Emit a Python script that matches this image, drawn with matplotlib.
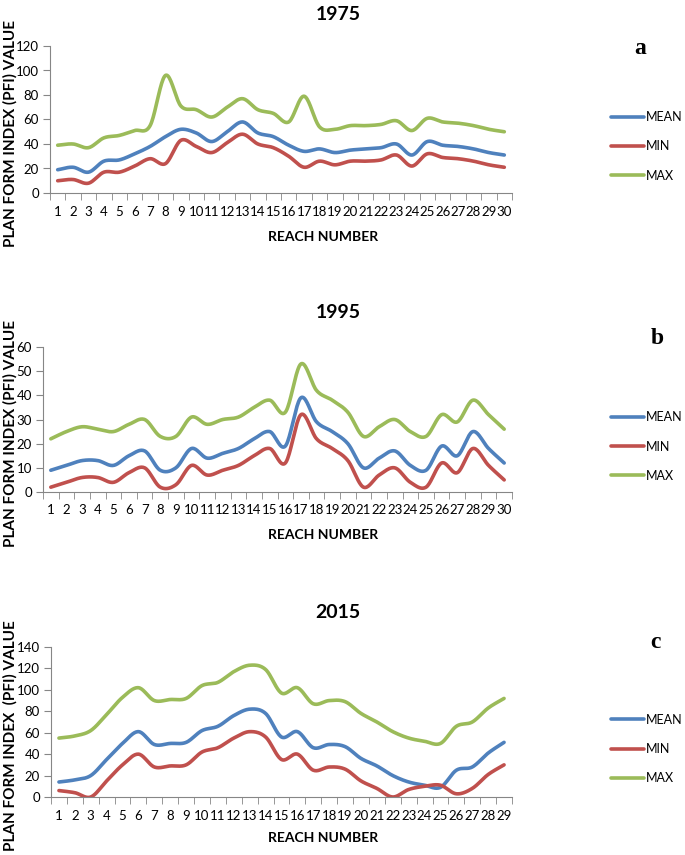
import numpy as np
import matplotlib
matplotlib.use("Agg")
import matplotlib.pyplot as plt

# Plan form index per reach
reach_1975 = list(range(1, 31))
mean_1975 = [19, 21, 17, 26, 27, 32, 38, 46, 52, 49, 42, 50, 58, 49, 46, 39, 34, 36, 33, 35, 36, 37, 40, 31, 42, 39, 38, 36, 33, 31]
min_1975 = [10, 11, 8, 17, 17, 22, 28, 24, 43, 38, 33, 41, 48, 40, 37, 30, 21, 26, 23, 26, 26, 27, 31, 22, 32, 29, 28, 26, 23, 21]
max_1975 = [39, 40, 37, 45, 47, 51, 55, 96, 71, 68, 62, 70, 77, 68, 65, 58, 79, 54, 52, 55, 55, 56, 59, 51, 61, 58, 57, 55, 52, 50]

reach_1995 = list(range(1, 31))
mean_1995 = [9, 11, 13, 13, 11, 15, 17, 9, 10, 18, 14, 16, 18, 22, 25, 19, 39, 29, 25, 20, 10, 14, 17, 11, 9, 19, 15, 25, 18, 12]
min_1995 = [2, 4, 6, 6, 4, 8, 10, 2, 3, 11, 7, 9, 11, 15, 18, 12, 32, 22, 18, 13, 2, 7, 10, 4, 2, 12, 8, 18, 11, 5]
max_1995 = [22, 25, 27, 26, 25, 28, 30, 23, 23, 31, 28, 30, 31, 35, 38, 33, 53, 42, 38, 33, 23, 27, 30, 25, 23, 32, 29, 38, 32, 26]

reach_2015 = list(range(1, 30))
mean_2015 = [14, 16, 20, 35, 50, 61, 49, 50, 51, 62, 66, 76, 82, 78, 56, 61, 46, 49, 47, 36, 29, 20, 14, 11, 9, 25, 28, 41, 51]
min_2015 = [6, 4, 0, 15, 30, 40, 28, 29, 30, 42, 46, 55, 61, 56, 35, 40, 25, 28, 26, 15, 8, 0, 7, 10, 11, 3, 8, 21, 30]
max_2015 = [55, 57, 62, 77, 93, 102, 90, 91, 92, 104, 107, 117, 123, 119, 97, 102, 87, 90, 89, 78, 70, 61, 55, 52, 50, 66, 70, 83, 92]

series_names = ["MEAN", "MIN", "MAX"]
colors = ["#4F81BD", "#C0504D", "#9BBB59"]

W, H = 685, 855
FONT = "Lato"


def smooth(x, y, n=20):
    # Catmull-Rom curve through the points (like Excel's smoothed line)
    x = np.asarray(x, float)
    y = np.asarray(y, float)
    px = np.concatenate([[2 * x[0] - x[1]], x, [2 * x[-1] - x[-2]]])
    py = np.concatenate([[2 * y[0] - y[1]], y, [2 * y[-1] - y[-2]]])
    xs, ys = [], []
    t = np.linspace(0, 1, n, endpoint=False)
    for i in range(1, len(px) - 2):
        for p, out in ((px, xs), (py, ys)):
            p0, p1, p2, p3 = p[i - 1], p[i], p[i + 1], p[i + 2]
            out.extend(0.5 * (2 * p1 + (-p0 + p2) * t
                              + (2 * p0 - 5 * p1 + 4 * p2 - p3) * t ** 2
                              + (-p0 + 3 * p1 - 3 * p2 + p3) * t ** 3))
    xs.append(x[-1])
    ys.append(y[-1])
    return xs, ys


def panel(left, top, right, bottom, reach, data, ymax, ystep, title, letter,
          ylabel, title_y, letter_xy, xlabel_y):
    fig = plt.gcf()
    ax = fig.add_axes([left / W, 1 - bottom / H, (right - left) / W, (bottom - top) / H])
    for vals, c, name in zip(data, colors, series_names):
        xs, ys = smooth(reach, vals)
        ax.plot(xs, ys, color=c, lw=2.6, label=name, solid_capstyle="round")
    n = len(reach)
    ax.set_xlim(0.5, n + 0.5)
    ax.set_ylim(0, ymax)
    ax.set_yticks(np.arange(0, ymax + 1, ystep))
    ax.set_xticks(reach)
    ax.set_xticks(np.arange(0.5, n + 1, 1), minor=True)
    ax.tick_params(axis="x", which="major", length=0, pad=9)
    ax.tick_params(axis="x", which="minor", length=5, color="#868686")
    ax.tick_params(axis="y", length=5, color="#868686", pad=3)
    for lab in ax.get_xticklabels() + ax.get_yticklabels():
        lab.set_fontfamily(FONT)
        lab.set_fontsize(9.5)
    for s in ("top", "right"):
        ax.spines[s].set_visible(False)
    for s in ("left", "bottom"):
        ax.spines[s].set_color("#868686")
    mid = (top + bottom) / 2
    fig.text(338 / W, 1 - title_y / H, title, ha="center", va="center",
             fontsize=14, fontweight="bold", family=FONT)
    fig.text(letter_xy[0] / W, 1 - letter_xy[1] / H, letter, ha="center", va="center",
             fontsize=17, fontweight="bold", family="Liberation Serif")
    fig.text(10 / W, 1 - (mid + 14) / H, ylabel, rotation=90,
             ha="center", va="center", fontsize=11, fontweight="bold", family=FONT)
    fig.text(323 / W, 1 - xlabel_y / H, "REACH NUMBER", ha="center",
             va="center", fontsize=10, fontweight="bold", family=FONT)
    ax.legend(loc="center left", bbox_to_anchor=(611 / W, 1 - (mid + 27) / H),
              bbox_transform=fig.transFigure, frameon=False, borderpad=0,
              borderaxespad=0, handlelength=2.6, handletextpad=0.2,
              labelspacing=1.38, prop={"family": FONT, "size": 9})
    return ax


fig = plt.figure(figsize=(W / 100, H / 100), dpi=100)

panel(50, 46, 512, 193, reach_1975, [mean_1975, min_1975, max_1975], 120, 20,
      "1975", "a", "PLAN FORM INDEX (PFI) VALUE", 15, (640, 49), 237)
panel(43, 347, 512, 492, reach_1995, [mean_1995, min_1995, max_1995], 60, 10,
      "1995", "b", "PLAN FORM INDEX (PFI) VALUE", 313, (657, 338), 535)
panel(51, 647, 512, 797, reach_2015, [mean_2015, min_2015, max_2015], 140, 20,
      "2015", "c", "PLAN FORM INDEX  (PFI) VALUE", 613, (655, 643), 838)

fig.savefig("out.png", dpi=100)
